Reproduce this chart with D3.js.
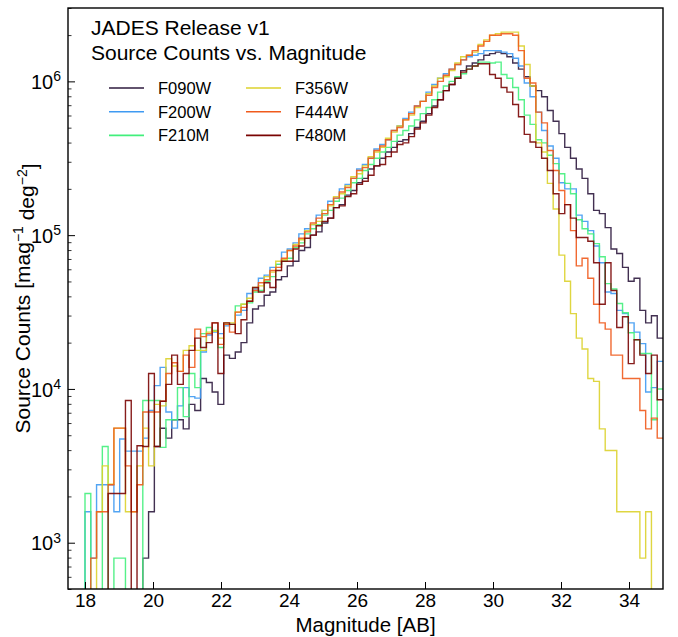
<!DOCTYPE html>
<html><head><meta charset="utf-8">
<script src="https://cdn.jsdelivr.net/npm/d3@7"></script>
<style>
body{margin:0;background:#fff}
text{font-family:"Liberation Sans",Arial,Helvetica,sans-serif;fill:#000}
</style>
</head><body>
<svg id="c" width="678" height="637"></svg>
<script>
// ---- data ----
const binStart = 18, binWidth = 0.17, nBins = 100;
const filters = ["F090W","F200W","F210M","F356W","F444W","F480M"];
const colors  = ["#2e1a3e","#3f9af2","#42ef7c","#dcd22c","#f05a1c","#7a0403"];

const F090W = [0,0,0,0,0,0,0,0,0,0, 794,1590,4220,5550,4790,6310,6310,5500,7940,7240,
11700,11000,9550,7940,16600,15800,17400,20000,26900,33100, 34700,40700,42700,51300,53700,63100,67600,79400,83200,100000,
105000,120000,129000,151000,158000,182000,195000,219000,234000,269000, 282000,316000,347000,372000,407000,417000,457000,501000,550000,617000,
692000,759000,871000,955000,1047000,1175000,1259000,1318000,1380000,1479000, 1514000,1549000,1514000,1445000,1318000,1202000,1072000,933000,871000,794000,
646000,550000,457000,372000,316000,269000,234000,186000,145000,138000, 112000,81300,75900,61700,50100,52500,32400,26900,29900,21400];

const F200W = [1590,794,2380,2380,2380,1590,4730,3940,3940,3940, 4790,7240,10500,13800,7080,5560,7760,10200,8910,8710,
17400,22400,23400,22900,25700,26300,30200,32400,41700,44700, 52500,55000,61700,64600,77600,81300,89100,102000,110000,117000,
135000,145000,166000,174000,200000,214000,234000,269000,288000,316000, 363000,389000,417000,479000,513000,575000,631000,692000,741000,851000,
955000,1047000,1122000,1202000,1288000,1380000,1445000,1479000,1514000,1585000, 1585000,1585000,1549000,1514000,1413000,1259000,977000,794000,631000,479000,
380000,316000,219000,200000,200000,135000,123000,107000,85100,66100, 42700,41700,32400,30900,26900,23400,19700,9550,10200,15100];

const F210M = [2090,0,0,4220,0,794,794,0,0,0, 8400,8400,8400,4170,6310,6310,10200,6610,12600,10200,
22900,25100,24000,18600,26300,26300,34700,35500,36300,42700, 43700,50100,53700,64600,67600,70800,83200,89100,102000,110000,
117000,135000,145000,166000,174000,195000,219000,234000,263000,288000, 316000,347000,372000,407000,447000,479000,513000,562000,617000,676000,
759000,851000,933000,1000000,1072000,1122000,1202000,1259000,1334000,1334000, 1318000,1334000,1109000,1047000,912000,759000,603000,525000,417000,398000,
331000,292000,251000,217000,186000,126000,110000,102000,88100,72400, 48400,44700,35900,31300,23200,20900,17000,17000,6310,10000];

const F356W = [0,0,1590,3160,2400,5560,5560,1590,1590,3160, 5560,3160,7940,7760,15700,14100,13000,17800,19100,17800,
17800,23400,23700,21400,26900,26900,31600,35500,38900,45700, 46800,53700,57500,67600,69200,79400,87100,93300,107000,117000,
123000,145000,155000,178000,186000,209000,240000,251000,282000,324000, 347000,372000,427000,468000,513000,562000,603000,676000,741000,832000,
933000,1047000,1072000,1175000,1318000,1445000,1479000,1549000,1738000,1862000, 1995000,2042000,2089000,2089000,2089000,1698000,1288000,933000,398000,347000,
217000,148000,74100,50100,30900,21400,18200,11700,11200,5500, 3980,3980,1590,1590,1590,1590,794,1590,0,0];

const F444W = [0,794,1590,1590,2380,5560,5560,3160,1590,2380, 7080,7080,7080,8320,12600,14800,13000,16600,13800,24500,
21900,22900,26900,19500,26300,23400,31600,33900,37200,43700, 49000,51300,58900,61700,70800,79400,85100,95500,105000,120000,
129000,138000,158000,174000,191000,204000,234000,263000,275000,316000, 355000,380000,417000,479000,501000,562000,617000,692000,741000,813000,
912000,1000000,1096000,1202000,1288000,1380000,1479000,1585000,1698000,1820000, 1995000,1995000,2042000,2042000,1995000,1585000,1047000,977000,631000,537000,
355000,263000,195000,158000,107000,63100,70800,52500,35500,26900, 24500,16600,16600,11700,11700,11700,7240,5500,6460,4790];

const F480M = [0,0,0,0,2090,2090,2090,8400,0,4270, 4220,12600,4220,8320,10700,16600,10700,12600,17800,21400,
18600,20000,26900,12600,26900,26300,22900,28200,37200,45700, 42700,49000,45700,58900,67600,67600,81300,85100,95500,100000,
115000,123000,129000,151000,155000,178000,186000,214000,224000,245000, 282000,288000,324000,347000,389000,398000,437000,490000,537000,603000,
676000,759000,871000,955000,1047000,1148000,1202000,1259000,1303000,1303000, 1109000,1047000,912000,851000,708000,589000,452000,403000,372000,316000,
263000,186000,138000,158000,129000,96600,96600,91200,66100,35500, 66100,43700,25100,29500,14600,20900,16600,12600,16600,8510];

const seriesValues = [F090W,F200W,F210M,F356W,F444W,F480M];
const xTicks = [18,20,22,24,26,28,30,32,34];
const yTickValues = [1e3,1e4,1e5,1e6];
const yTickExponents = ["3","4","5","6"];
const titleLines = ["JADES Release v1","Source Counts vs. Magnitude"];

// ---- layout ----
const L=68, R=663, T=8, B=589;
const svg = d3.select("#c");
const x = d3.scaleLinear().domain([17.5,35]).range([L,R]);
const y = d3.scaleLog().domain([500,3e6]).range([B,T]);

svg.append("defs").append("clipPath").attr("id","clip")
  .append("rect").attr("x",L).attr("y",T).attr("width",R-L).attr("height",B-T);

const edges = d3.range(nBins+1).map(i => binStart + i*binWidth);
const line = d3.line()
  .x(d => x(d[0]))
  .y(d => d[1] > 0 ? y(d[1]) : B + 40)
  .curve(d3.curveStepAfter);

const g = svg.append("g").attr("clip-path","url(#clip)");
seriesValues.forEach((vals, k) => {
  const pts = [[edges[0], 0]];
  vals.forEach((v,i) => pts.push([edges[i], v]));
  pts.push([edges[nBins], vals[nBins-1]]);
  g.append("path").attr("d", line(pts))
    .attr("fill","none").attr("stroke", colors[k])
    .attr("stroke-width",1.4).attr("stroke-opacity",0.9)
    .attr("stroke-linejoin","miter");
});

// x axis (ticks inward)
const xAxis = svg.append("g").attr("transform",`translate(0,${B})`)
  .call(d3.axisBottom(x).tickValues(xTicks).tickSize(-7).tickPadding(5).tickFormat(d3.format("d")));
xAxis.select(".domain").remove();
xAxis.selectAll(".tick line").attr("stroke","#000").attr("stroke-width",1);
xAxis.selectAll(".tick text").attr("font-size",19).attr("font-family","Liberation Sans, Arial, sans-serif");

// y axis major
const yAxis = svg.append("g").attr("transform",`translate(${L},0)`)
  .call(d3.axisLeft(y).tickValues(yTickValues).tickSize(-7).tickFormat(""));
yAxis.select(".domain").remove();
yAxis.selectAll(".tick line").attr("stroke","#000").attr("stroke-width",1);
yAxis.selectAll(".tick").each(function(d,i){
  const t = d3.select(this).append("text").attr("x",-7).attr("dy","0.36em")
    .attr("text-anchor","end").attr("font-size",20).style("fill","#000");
  t.append("tspan").text("10");
  t.append("tspan").attr("dy","-0.55em").attr("font-size",14).text(yTickExponents[i]);
});
// y minor ticks
const minor = [];
for (let e=2; e<=6; e++) for (let m=2; m<=9; m++) { const v=m*Math.pow(10,e); if (v>=500 && v<=3e6) minor.push(v); }
const yMinor = svg.append("g").attr("transform",`translate(${L},0)`)
  .call(d3.axisLeft(y).tickValues(minor).tickSize(-3.5).tickFormat(""));
yMinor.select(".domain").remove();
yMinor.selectAll(".tick line").attr("stroke","#000").attr("stroke-width",0.8);

// frame
svg.append("rect").attr("x",L).attr("y",T).attr("width",R-L).attr("height",B-T)
  .attr("fill","none").attr("stroke","#000").attr("stroke-width",1.4);

// axis labels
svg.append("text").attr("x",(L+R)/2).attr("y",631.5).attr("text-anchor","middle")
  .attr("font-size",20.5).text("Magnitude [AB]");
const yl = svg.append("text").attr("transform",`translate(30,${(T+B)/2}) rotate(-90)`)
  .attr("text-anchor","middle").attr("font-size",21);
yl.append("tspan").text("Source Counts [mag");
yl.append("tspan").attr("dy","-0.5em").attr("font-size",14).text("\u22121");
yl.append("tspan").attr("dy","0.5em").text(" deg");
yl.append("tspan").attr("dy","-0.5em").attr("font-size",14).text("\u22122");
yl.append("tspan").attr("dy","0.5em").text("]");

// title
titleLines.forEach((s,i)=>{
  svg.append("text").attr("x",91).attr("y",35+i*24.5).attr("font-size",21).text(s);
});

// legend
filters.forEach((f,k)=>{
  const col = Math.floor(k/3), row = k%3;
  const lx = col===0 ? 109 : 246, ty = 88 + row*23.7;
  svg.append("line").attr("x1",lx).attr("x2",lx+35).attr("y1",ty).attr("y2",ty)
    .attr("stroke",colors[k]).attr("stroke-width",1.6);
  svg.append("text").attr("x",lx+49).attr("y",ty).attr("dy","0.36em")
    .attr("font-size",16.5).text(f);
});
</script>
</body></html>
